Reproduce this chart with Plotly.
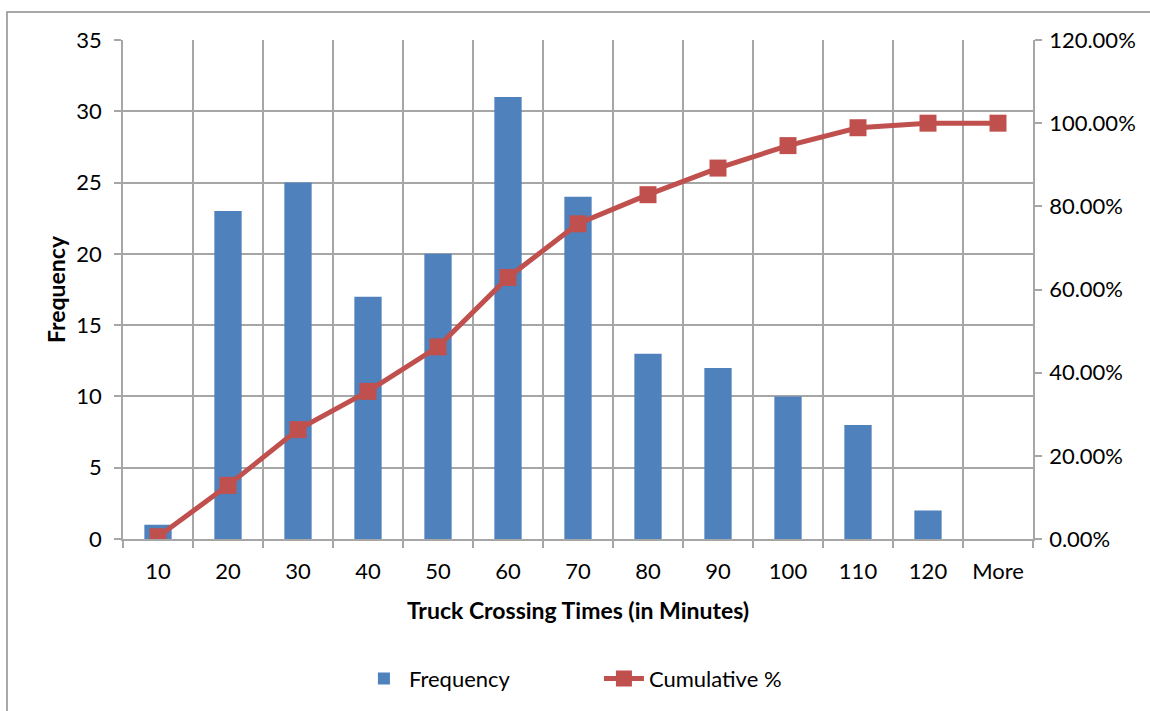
import plotly.graph_objects as go

categories = ["10", "20", "30", "40", "50", "60", "70", "80", "90", "100", "110", "120", "More"]
frequency = [1, 23, 25, 17, 20, 31, 24, 13, 12, 10, 8, 2, 0]
cumulative = [0.0054, 0.129, 0.263, 0.355, 0.462, 0.629, 0.758, 0.828, 0.892, 0.946, 0.989, 1.0, 1.0]

FONT = "Lato"
GRID = "#a6a6a6"

fig = go.Figure()
fig.add_trace(go.Bar(x=categories, y=frequency, name="Frequency",
                     marker=dict(color="#4F81BD", line=dict(width=0)), yaxis="y"))
fig.add_trace(go.Scatter(x=categories, y=cumulative, name="Cumulative %", yaxis="y2",
                         mode="lines+markers",
                         line=dict(color="#C0504D", width=5),
                         marker=dict(symbol="square", size=17, color="#C0504D")))

fig.update_layout(
    width=1150, height=711,
    margin=dict(l=123, r=117, t=40, b=172, autoexpand=False),
    plot_bgcolor="white", paper_bgcolor="white",
    font=dict(family=FONT, size=22, color="black"),
    bargap=0.61,
    showlegend=True,
    legend=dict(orientation="h", x=0.523, xanchor="center", y=-0.28, yanchor="middle",
                font=dict(size=22), traceorder="normal", itemwidth=40,
                entrywidth=185, entrywidthmode="pixels"),
    xaxis=dict(type="category", range=[-0.5, len(categories) - 0.5], autorange=False,
               tickson="boundaries", showgrid=True, gridcolor=GRID, gridwidth=1.5,
               ticks="outside", ticklen=7, tickcolor=GRID, tickwidth=1.5,
               showline=True, linecolor=GRID, linewidth=1.5, mirror=False, automargin=False,
               ticklabelstandoff=12,
               title=dict(text="<b>Truck Crossing Times (in Minutes)</b>", font=dict(size=23), standoff=20),
               tickfont=dict(size=22)),
    yaxis=dict(range=[0, 35], dtick=5, showgrid=True, gridcolor=GRID, gridwidth=1.5,
               ticks="outside", ticklen=7, tickcolor=GRID, tickwidth=1.5,
               showline=True, linecolor=GRID, linewidth=1.5, zeroline=False, automargin=False,
               ticklabelstandoff=8,
               title=dict(text="<b>Frequency</b>", font=dict(size=23), standoff=4),
               tickfont=dict(size=22)),
    yaxis2=dict(range=[0, 1.2], dtick=0.2, tickformat=".2%", overlaying="y", side="right",
                showgrid=False, ticks="outside", ticklen=7, tickcolor=GRID, tickwidth=1.5,
                showline=True, linecolor=GRID, linewidth=1.5, zeroline=False, automargin=False,
                ticklabelstandoff=3,
                tickfont=dict(size=22)),
)

fig.add_shape(type="rect", xref="paper", yref="paper",
              x0=-0.1275, x1=1.3, y0=-0.5, y1=1.056,
              line=dict(color="#8c8c8c", width=1.5), layer="below")

fig.write_html("out.html", config={"displayModeBar": False},
               post_script="document.body.style.margin='0';")
